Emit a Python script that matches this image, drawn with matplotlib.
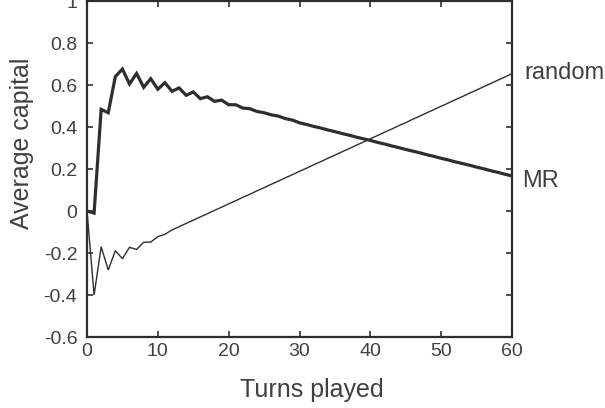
import matplotlib
matplotlib.use("Agg")
import matplotlib.pyplot as plt

turns = list(range(61))

mr_capital = [0.0, -0.01, 0.484, 0.468, 0.64, 0.676, 0.605, 0.655, 0.589, 0.63,
              0.58, 0.611, 0.57, 0.586, 0.551, 0.567, 0.535, 0.544, 0.522, 0.528,
              0.506, 0.506, 0.49, 0.487, 0.474, 0.468, 0.458, 0.452, 0.44, 0.433,
              0.420, 0.412, 0.403, 0.395, 0.386, 0.378, 0.369, 0.361, 0.352, 0.344,
              0.336, 0.327, 0.319, 0.310, 0.302, 0.293, 0.285, 0.277, 0.268, 0.260,
              0.251, 0.243, 0.234, 0.226, 0.218, 0.209, 0.201, 0.192, 0.184, 0.175,
              0.167]

random_capital = [0.0, -0.40, -0.17, -0.281, -0.189, -0.227, -0.173, -0.183, -0.149, -0.148,
                  -0.122, -0.111, -0.09, -0.075, -0.059, -0.044, -0.028, -0.013, 0.003, 0.018,
                  0.034, 0.049, 0.065, 0.080, 0.096, 0.111, 0.127, 0.142, 0.158, 0.173,
                  0.189, 0.204, 0.220, 0.235, 0.251, 0.266, 0.282, 0.297, 0.313, 0.328,
                  0.344, 0.359, 0.375, 0.390, 0.406, 0.421, 0.437, 0.452, 0.468, 0.483,
                  0.499, 0.514, 0.530, 0.545, 0.561, 0.576, 0.592, 0.607, 0.623, 0.638,
                  0.654]

series_labels = ["MR", "random"]
x_ticks = [0, 10, 20, 30, 40, 50, 60]
y_ticks = [-0.6, -0.4, -0.2, 0, 0.2, 0.4, 0.6, 0.8, 1]
y_tick_labels = ["-0.6", "-0.4", "-0.2", "0", "0.2", "0.4", "0.6", "0.8", "1"]

plt.rcParams['font.family'] = ['Liberation Sans', 'DejaVu Sans']

line_color = "#2e2e2e"
text_color = "#404040"

fig = plt.figure(figsize=(6.05, 4.08), dpi=100)
ax = fig.add_axes([87 / 605, 1 - 337 / 408, (512 - 87) / 605, (337 - 1) / 408])

ax.plot(turns, random_capital, color=line_color, lw=1.0, solid_joinstyle='miter')
ax.plot(turns, mr_capital, color=line_color, lw=2.3, solid_joinstyle='miter')

ax.set_xlim(0, 60)
ax.set_ylim(-0.6, 1)
ax.set_xticks(x_ticks)
ax.set_xticklabels([str(t) for t in x_ticks])
ax.set_yticks(y_ticks)
ax.set_yticklabels(y_tick_labels)

ax.tick_params(direction='in', top=True, right=True, length=4, width=1.2,
               color=line_color, labelsize=14, labelcolor=text_color)
ax.tick_params(axis='y', pad=7)
ax.tick_params(axis='x', pad=4)
for s in ax.spines.values():
    s.set_color(line_color)
    s.set_linewidth(1.6)

ax.set_xlabel("Turns played", fontsize=18, color=text_color)
ax.xaxis.label.set_va('baseline')
ax.xaxis.set_label_coords(0.528, -0.1777)
ax.set_ylabel("Average capital", fontsize=18, color=text_color)
ax.yaxis.label.set_va('center')
ax.yaxis.set_label_coords(-0.154, 0.575)

ax.annotate(series_labels[1], xy=(turns[-1], random_capital[-1]), xytext=(8.6, -3.6),
            textcoords='offset points', fontsize=17, color=text_color,
            va='baseline', ha='left', annotation_clip=False)
ax.annotate(series_labels[0], xy=(turns[-1], mr_capital[-1]), xytext=(7, -8.1),
            textcoords='offset points', fontsize=17, color=text_color,
            va='baseline', ha='left', annotation_clip=False)

fig.savefig("out.png", dpi=100)
